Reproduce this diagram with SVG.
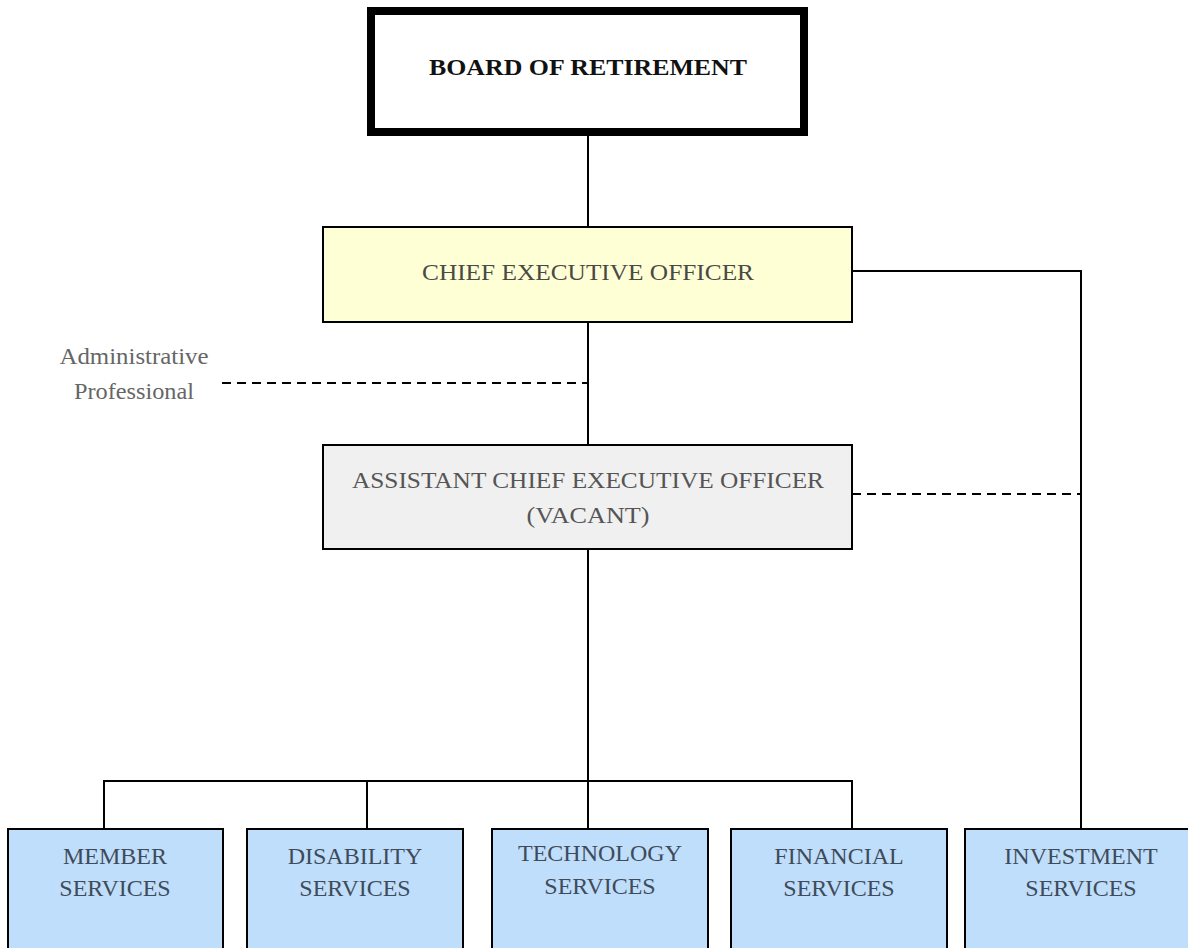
<svg xmlns="http://www.w3.org/2000/svg" width="1188" height="948" viewBox="0 0 1188 948">
<style>
.box{stroke:#000;stroke-width:2}
.t{font-family:"Liberation Serif","Times New Roman",serif;text-anchor:middle;font-size:24px}
.g{fill:#4a4a45}
.b{fill:#3f4b58}
.ln{stroke:#000;stroke-width:2;fill:none}
.dash{stroke:#000;stroke-width:2;fill:none;stroke-dasharray:9 6}
</style>
<rect width="1188" height="948" fill="#fff"/>
<g id="connectors">
<line class="ln" x1="588" y1="136" x2="588" y2="227"/>
<line class="ln" x1="588" y1="322" x2="588" y2="445"/>
<polyline class="ln" points="852,271 1081,271 1081,829"/>
<line class="dash" x1="222" y1="383" x2="588" y2="383"/>
<line class="dash" x1="852" y1="494" x2="1081" y2="494"/>
<line class="ln" x1="588" y1="549" x2="588" y2="829"/>
<polyline class="ln" points="104,829 104,781 852,781 852,829"/>
<line class="ln" x1="367" y1="781" x2="367" y2="829"/>
</g>
<g id="board">
<rect x="371" y="11" width="433" height="121" fill="#fff" stroke="#000" stroke-width="8"/>
<text class="t" x="588" y="75" font-size="26" font-weight="bold" fill="#111" textLength="318" lengthAdjust="spacingAndGlyphs">BOARD OF RETIREMENT</text>
</g>
<g id="ceo">
<rect class="box" x="323" y="227" width="529" height="95" fill="#ffffd6"/>
<text class="t g" x="588" y="280" font-size="27" textLength="332" lengthAdjust="spacingAndGlyphs">CHIEF EXECUTIVE OFFICER</text>
</g>
<g id="admin">
<text class="t" x="134" y="364" font-size="22" fill="#666" textLength="149" lengthAdjust="spacingAndGlyphs">Administrative</text>
<text class="t" x="134" y="399" font-size="22" fill="#666" textLength="120" lengthAdjust="spacingAndGlyphs">Professional</text>
</g>
<g id="aceo">
<rect class="box" x="323" y="445" width="529" height="104" fill="#f0f0f0"/>
<text class="t" x="588" y="488" font-size="27" fill="#555" textLength="472" lengthAdjust="spacingAndGlyphs">ASSISTANT CHIEF EXECUTIVE OFFICER</text>
<text class="t" x="588" y="523" font-size="27" fill="#555" textLength="123" lengthAdjust="spacingAndGlyphs">(VACANT)</text>
</g>
<g id="member">
<rect class="box" x="8" y="829" width="215" height="130" fill="#bfdefc"/>
<text class="t b" x="115" y="864" font-size="25">MEMBER</text>
<text class="t b" x="115" y="896" font-size="25">SERVICES</text>
</g>
<g id="disability">
<rect class="box" x="247" y="829" width="216" height="130" fill="#bfdefc"/>
<text class="t b" x="355" y="864" font-size="25">DISABILITY</text>
<text class="t b" x="355" y="896" font-size="25">SERVICES</text>
</g>
<g id="technology">
<rect class="box" x="492" y="829" width="216" height="130" fill="#bfdefc"/>
<text class="t b" x="600" y="861" font-size="25">TECHNOLOGY</text>
<text class="t b" x="600" y="894" font-size="25">SERVICES</text>
</g>
<g id="financial">
<rect class="box" x="731" y="829" width="216" height="130" fill="#bfdefc"/>
<text class="t b" x="839" y="864" font-size="25">FINANCIAL</text>
<text class="t b" x="839" y="896" font-size="25">SERVICES</text>
</g>
<g id="investment">
<rect class="box" x="965" y="829" width="232" height="130" fill="#bfdefc"/>
<text class="t b" x="1081" y="864" font-size="25">INVESTMENT</text>
<text class="t b" x="1081" y="896" font-size="25">SERVICES</text>
</g>
</svg>
